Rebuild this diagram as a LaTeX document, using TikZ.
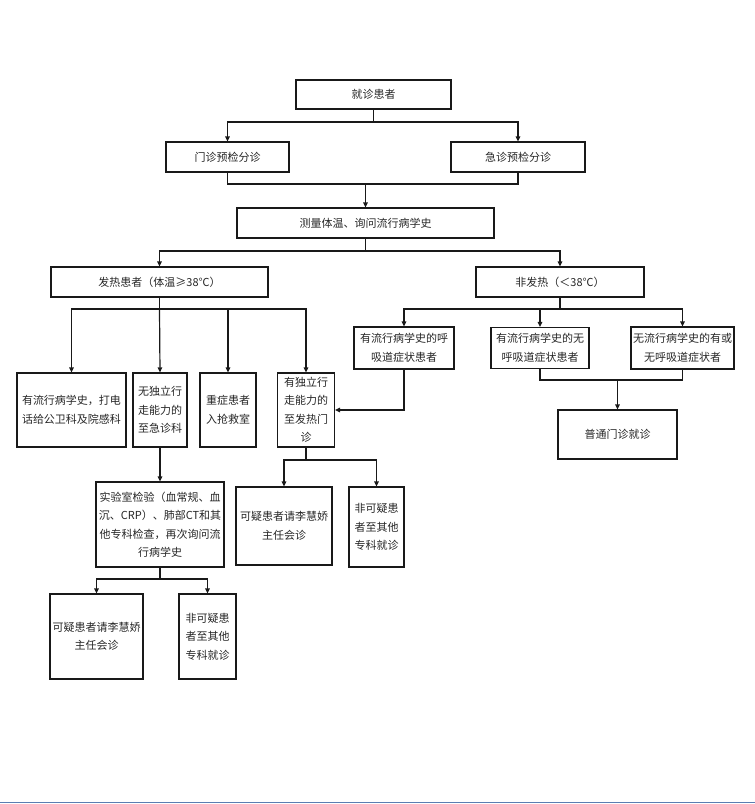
\documentclass[tikz,border=0pt]{standalone}
\usepackage{fontspec}
\setmainfont{Noto Sans CJK SC}
\usetikzlibrary{arrows.meta}
\definecolor{bottomline}{RGB}{91,125,177}
\tikzset{
  box/.style={draw=black!90, line width=1.2pt, rectangle, inner sep=0pt, align=center,
    text=black!85, font=\fontsize{11}{18.5}\selectfont},
  conn/.style={line width=1.2pt, draw=black!90},
  arr/.style={conn, -{Triangle[length=5pt,width=4.5pt]}}
}
\begin{document}
\begin{tikzpicture}[x=1pt,y=-1pt]
\useasboundingbox (0,0) rectangle (755,804);
% nodes
\node[box, minimum width=155pt, minimum height=29pt] (A) at (373.5,94.5) {就诊患者};
\node[box, minimum width=123pt, minimum height=30pt] (B) at (227.5,157) {门诊预检分诊};
\node[box, minimum width=134pt, minimum height=30pt] (C) at (518,157) {急诊预检分诊};
\node[box, minimum width=257pt, minimum height=30pt] (D) at (365.5,223) {测量体温、询问流行病学史};
\node[box, minimum width=217pt, minimum height=30pt] (E) at (159.5,282) {发热患者（体温≥38℃）};
\node[box, minimum width=168pt, minimum height=30pt] (F) at (560,282) {非发热（＜38℃）};
\node[box, minimum width=109pt, minimum height=74pt] (G1) at (71.5,410) {有流行病学史，打电\\话给公卫科及院感科};
\node[box, minimum width=54pt, minimum height=74pt] (G2) at (160,410) {无独立行\\走能力的\\至急诊科};
\node[box, minimum width=56pt, minimum height=74pt] (G3) at (228,410) {重症患者\\入抢救室};
\node[box, minimum width=57pt, minimum height=74pt] (G4) at (306,410) {有独立行\\走能力的\\至发热门\\诊};
\node[box, minimum width=100pt, minimum height=42pt] (H1) at (404,348) {有流行病学史的呼\\吸道症状患者};
\node[box, minimum width=98pt, minimum height=41pt] (H2) at (540,348) {有流行病学史的无\\呼吸道症状患者};
\node[box, minimum width=103pt, minimum height=42pt] (H3) at (682.5,348) {无流行病学史的有或\\无呼吸道症状者};
\node[box, minimum width=119pt, minimum height=49pt] (I) at (617.5,434.5) {普通门诊就诊};
\node[box, minimum width=128pt, minimum height=85pt] (J) at (160,524.5) {实验室检验（血常规、血\\沉、CRP）、肺部CT和其\\他专科检查，再次询问流\\行病学史};
\node[box, minimum width=93pt, minimum height=85pt] (K1) at (96.5,636.5) {可疑患者请李慧娇\\主任会诊};
\node[box, minimum width=57pt, minimum height=85pt] (K2) at (207.5,636.5) {非可疑患\\者至其他\\专科就诊};
\node[box, minimum width=96pt, minimum height=78pt] (L1) at (284,526) {可疑患者请李慧娇\\主任会诊};
\node[box, minimum width=55pt, minimum height=80pt] (L2) at (376.5,527) {非可疑患\\者至其他\\专科就诊};
% junctions
\coordinate (j1) at (373.5,122);
\coordinate (j2) at (365.5,184);
\coordinate (j3) at (365.5,251);
\coordinate (j4) at (560,309);
\coordinate (j5) at (159.5,309);
\coordinate (j6) at (306,460);
\coordinate (j7) at (617.5,380);
\coordinate (j8) at (160,579);
% connectors
\draw[conn] (A.south) -- (j1);
\draw[arr] (j1) -| (B.north);
\draw[arr] (j1) -| (C.north);
\draw[conn] (B.south) |- (j2) -| (C.south);
\draw[arr] (j2) -- (D.north);
\draw[conn] (D.south) -- (j3);
\draw[arr] (j3) -| (E.north);
\draw[arr] (j3) -| (F.north);
\draw[conn] (E.south) -- (j5);
\draw[arr] (j5) -| (G1.north);
\draw[arr] (j5) -- (G2.north);
\draw[arr] (j5) -| (G3.north);
\draw[arr] (j5) -| (G4.north);
\draw[conn] (F.south) -- (j4);
\draw[arr] (j4) -| (H1.north);
\draw[arr] (j4) -| (H2.north);
\draw[arr] (j4) -| (H3.north);
\draw[arr] (H1.south) |- (G4.east);
\draw[conn] (H2.south) |- (j7) -| (H3.south);
\draw[arr] (j7) -- (I.north);
\draw[arr] (G2.south) -- (J.north);
\draw[conn] (J.south) -- (j8);
\draw[arr] (j8) -| (K1.north);
\draw[arr] (j8) -| (K2.north);
\draw[conn] (G4.south) -- (j6);
\draw[arr] (j6) -| (L1.north);
\draw[arr] (j6) -| (L2.north);
% bottom rule
\coordinate (bl) at (0,802.5);
\coordinate (br) at (755,802.5);
\draw[bottomline, line width=1.5pt] (bl) -- (br);
\end{tikzpicture}
\end{document}
